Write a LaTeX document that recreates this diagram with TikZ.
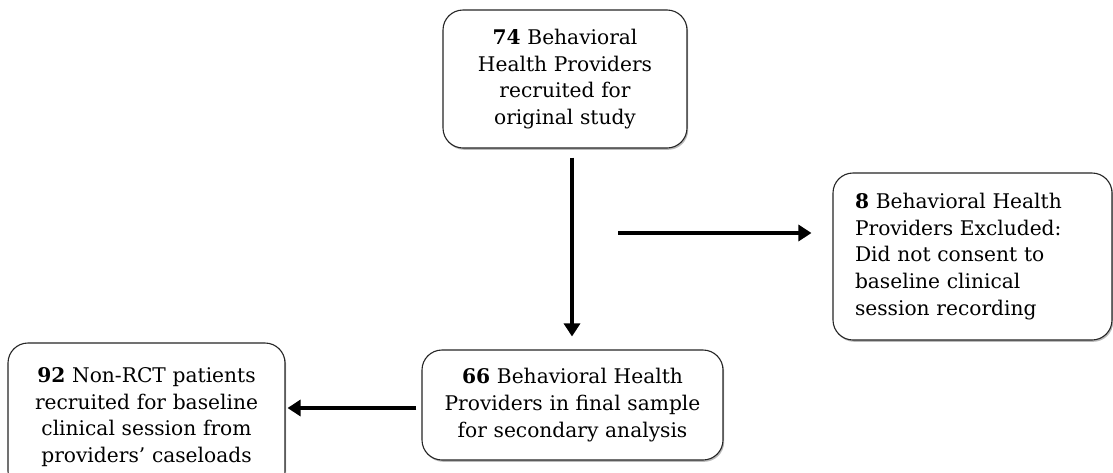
\documentclass[tikz,border=0pt]{standalone}
\usepackage{fontspec}
\setmainfont{DejaVu Serif}
\usetikzlibrary{arrows.meta,shadows}
\begin{document}
\begin{tikzpicture}[x=1pt,y=-1pt,
  boxstyle/.style={draw=black!85, line width=1.1pt, rounded corners=20pt, fill=white,
    drop shadow={shadow xshift=1.2pt, shadow yshift=-1.8pt, opacity=0.45, fill=black!60},
    font=\fontsize{20.2}{26.8}\selectfont, inner sep=0pt},
  arr/.style={line width=4pt, -{Triangle[length=13pt,width=16pt]}}]
\clip (0,0) rectangle (1113,472);
\fill[white] (0,0) rectangle (1113,472);
\node[boxstyle, minimum width=244pt, minimum height=138pt, text width=236pt, align=center] (top) at (565,79)
  {\textbf{74} Behavioral\\Health Providers\\recruited for\\original study};
\node[boxstyle, minimum width=279pt, minimum height=167pt, text width=235pt, align=left] (excl) at (972.5,256.5)
  {\textbf{8} Behavioral Health\\Providers Excluded:\\Did not consent to\\baseline clinical\\session recording};
\node[boxstyle, minimum width=301pt, minimum height=110pt, text width=295pt, align=center] (final) at (572.5,405)
  {\textbf{66} Behavioral Health\\Providers in final sample\\for secondary analysis};
\node[boxstyle, minimum width=277pt, minimum height=148pt, text width=270pt, align=center] (pat) at (146.5,417)
  {\textbf{92} Non-RCT patients\\recruited for baseline\\clinical session from\\providers’ caseloads};
\draw[arr, shorten <=9pt, shorten >=13pt] (top.south -| 572,0) -- (final.north -| 572,0);
\coordinate (ex) at (618,233);
\draw[arr, shorten >=21pt] (ex) -- (ex -| excl.west);
\draw[arr, shorten <=5pt, shorten >=2pt] ([yshift=-3pt]final.west) -- ([yshift=-3pt]final.west -| pat.east);
\end{tikzpicture}
\end{document}
